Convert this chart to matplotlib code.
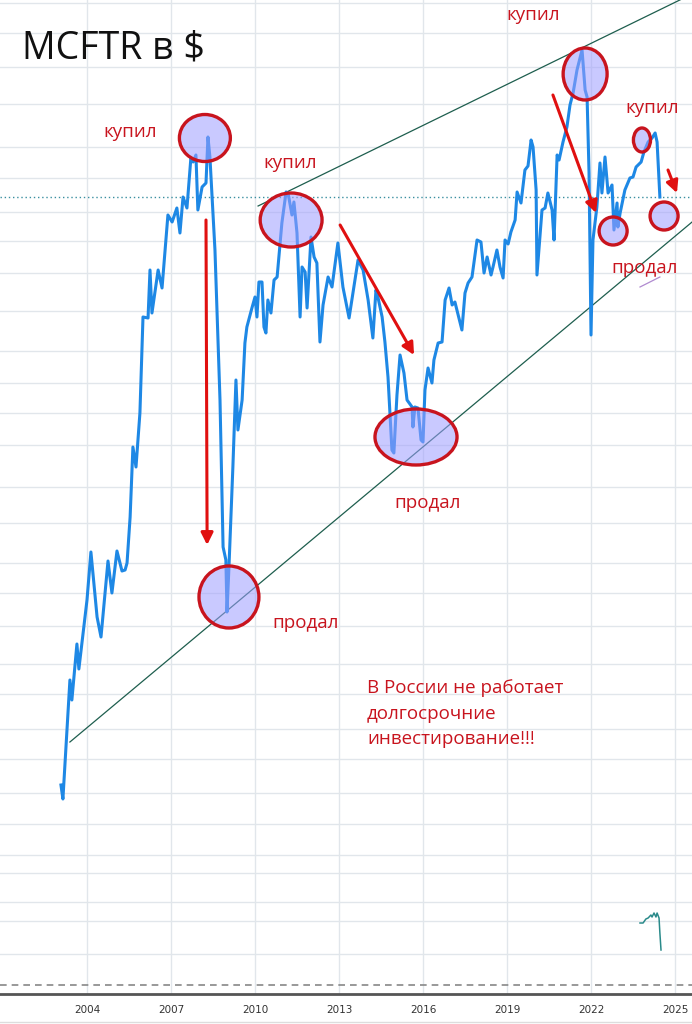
#%%
import numpy as np
import matplotlib.pyplot as plt
from matplotlib.patches import Ellipse

plt.rcParams['font.family'] = ['Open Sans', 'DejaVu Sans']

#%% MCFTR in $ (levels are relative chart units, no price axis shown)
years = [2003.07, 2003.14, 2003.39, 2003.46, 2003.64, 2003.71, 2004.00, 2004.14, 2004.36, 2004.50,
         2004.75, 2004.89, 2005.07, 2005.25, 2005.36, 2005.43, 2005.54, 2005.64, 2005.75, 2005.89,
         2006.00, 2006.18, 2006.25, 2006.32, 2006.54, 2006.68, 2006.89, 2007.04, 2007.21, 2007.32,
         2007.43, 2007.57, 2007.71, 2007.79, 2007.89, 2007.96, 2008.11, 2008.25, 2008.32, 2008.39,
         2008.57, 2008.75, 2008.86, 2008.96, 2009.00, 2009.07, 2009.21, 2009.32, 2009.39, 2009.54,
         2009.64, 2009.71, 2009.89, 2010.00, 2010.07, 2010.14, 2010.25, 2010.32, 2010.39, 2010.46,
         2010.57, 2010.68, 2010.79, 2010.96, 2011.11, 2011.18, 2011.32, 2011.39, 2011.50, 2011.61,
         2011.68, 2011.79, 2011.86, 2012.00, 2012.11, 2012.21, 2012.32, 2012.43, 2012.61, 2012.75,
         2012.96, 2013.14, 2013.36, 2013.68, 2013.86, 2014.04, 2014.21, 2014.32, 2014.39, 2014.54,
         2014.64, 2014.75, 2014.89, 2014.96, 2015.07, 2015.18, 2015.32, 2015.43, 2015.61, 2015.64,
         2015.71, 2015.82, 2015.93, 2016.00, 2016.07, 2016.18, 2016.32, 2016.39, 2016.54, 2016.68,
         2016.79, 2016.93, 2017.04, 2017.14, 2017.39, 2017.50, 2017.61, 2017.75, 2017.93, 2018.07,
         2018.18, 2018.29, 2018.43, 2018.50, 2018.64, 2018.75, 2018.86, 2018.93, 2019.04, 2019.14,
         2019.29, 2019.36, 2019.50, 2019.64, 2019.75, 2019.86, 2019.93, 2020.04, 2020.07, 2020.25,
         2020.36, 2020.46, 2020.61, 2020.68, 2020.79, 2020.86, 2021.00, 2021.14, 2021.25, 2021.36,
         2021.50, 2021.68, 2021.79, 2021.86, 2021.93, 2022.00, 2022.07, 2022.21, 2022.32, 2022.39,
         2022.50, 2022.61, 2022.75, 2022.82, 2022.93, 2022.96, 2023.04, 2023.21, 2023.39, 2023.50,
         2023.61, 2023.79, 2023.89, 2024.04, 2024.18, 2024.29, 2024.36, 2024.46]
levels = [209, 195, 314, 294, 350, 325, 394, 442, 377, 357,
          433, 401, 443, 423, 424, 431, 477, 547, 527, 581,
          677, 676, 724, 681, 724, 706, 779, 772, 786, 761,
          797, 786, 836, 832, 839, 784, 807, 811, 857, 837,
          744, 594, 447, 434, 382, 427, 527, 614, 564, 594,
          651, 667, 686, 697, 677, 712, 712, 667, 661, 694,
          681, 714, 717, 771, 802, 801, 779, 792, 761, 677,
          727, 722, 686, 757, 737, 731, 652, 689, 717, 707,
          751, 707, 676, 734, 724, 694, 656, 704, 697, 677,
          652, 617, 544, 541, 599, 639, 621, 594, 587, 567,
          587, 586, 554, 552, 604, 626, 611, 634, 651, 652,
          694, 706, 689, 692, 664, 701, 711, 717, 754, 752,
          721, 737, 719, 727, 744, 727, 716, 754, 750, 762,
          774, 802, 791, 824, 828, 854, 847, 804, 719, 784,
          786, 801, 784, 754, 839, 834, 852, 867, 889, 901,
          924, 944, 904, 897, 821, 659, 754, 787, 831, 801,
          837, 801, 809, 764, 791, 767, 781, 804, 816, 817,
          827, 832, 842, 852, 856, 861, 852, 797]

# small line in the lower pane
pane_years = [2023.75, 2023.86, 2023.96, 2024.04, 2024.14, 2024.18, 2024.25, 2024.32, 2024.36, 2024.43, 2024.46, 2024.50]
pane_levels = [71, 71, 75, 76, 79, 77, 81, 77, 81, 76, 61, 44]

tick_years = [2004, 2007, 2010, 2013, 2016, 2019, 2022, 2025]
grid_levels = [991, 961, 927, 890, 847, 816, 782, 753, 721, 683, 643, 611, 581, 549, 507,
               471, 431, 401, 368, 330, 300, 265, 235, 201, 170, 139, 121, 92, 73, 40]
last_level = 797

# channel lines
lower_line = ([2003.39, 2025.61], [252, 772])
upper_line = ([2010.11, 2025.61], [788, 1000])

# circles: (year, level, width in years, height)
circles = [(2008.21, 856, 1.82, 47), (2011.29, 774, 2.21, 54), (2009.07, 397, 2.14, 62),
           (2015.75, 557, 2.93, 56), (2021.79, 920, 1.57, 52), (2022.79, 763, 1.0, 28),
           (2023.82, 854, 0.61, 24), (2024.61, 778, 1.0, 28)]

arrows = [((2008.25, 774), (2008.29, 449)), ((2013.04, 769), (2015.68, 639)),
          ((2020.64, 899), (2022.18, 781)), ((2024.75, 824), (2025.07, 801))]

labels = [('купил', 2005.54, 862), ('купил', 2011.25, 831), ('купил', 2019.93, 979),
          ('купил', 2024.18, 886), ('продал', 2011.79, 371), ('продал', 2016.18, 491),
          ('продал', 2023.93, 726)]

note = 'В России не работает\nдолгосрочние\nинвестирование!!!'

#%%
red = '#c8141e'
fig = plt.figure(figsize=(6.92, 10.24), dpi=100)
ax = fig.add_axes([0, 30 / 1024, 1, 994 / 1024])
ax.set_xlim(2000.893, 2025.607)
ax.set_ylim(0, 994)

for g in grid_levels:
    ax.axhline(g, color='#e1e6eb', lw=1, zorder=0)
for t in tick_years:
    ax.axvline(t, color='#e1e6eb', lw=1, zorder=0)

ax.axhline(last_level, color='#3a8fa0', lw=1, ls=(0, (1, 2)), zorder=1)
ax.axhline(9, color='#888888', lw=1.2, ls=(0, (4, 3)), zorder=1)

ax.plot(*lower_line, color='#1e5e4e', lw=0.9, zorder=2)
ax.plot(*upper_line, color='#1e5e4e', lw=0.9, zorder=2)

ax.plot(years, levels, color='#1e88e5', lw=2.2, zorder=3, solid_joinstyle='round')
ax.plot(pane_years, pane_levels, color='#2a8a8a', lw=1.1, zorder=3)
ax.plot([2023.75, 2024.46], [707, 717], color='#b08ad0', lw=0.9, zorder=3)

for cx, cy, w, h in circles:
    ax.add_patch(Ellipse((cx, cy), w, h, facecolor=(0.62, 0.62, 1.0, 0.55),
                         edgecolor=red, lw=2.4, zorder=4))

for (x0, y0), (x1, y1) in arrows:
    ax.annotate('', xy=(x1, y1), xytext=(x0, y0), zorder=5,
                arrowprops=dict(arrowstyle='-|>', color='#e01010', lw=2.2,
                                mutation_scale=18, shrinkA=0, shrinkB=0))

for txt, x, y in labels:
    ax.text(x, y, txt, color=red, fontsize=13.5, ha='center', va='center', zorder=6)

ax.text(2014.0, 315, note, color=red, fontsize=13.5, ha='left', va='top',
        linespacing=1.55, zorder=6)

ax.text(0.032, 0.951, 'MCFTR в $', transform=ax.transAxes, fontsize=27,
        color='#111111', ha='left', va='center', zorder=6)

ax.set_xticks(tick_years)
ax.set_xticklabels([str(t) for t in tick_years], fontsize=7.5, color='#333333',
                   family='DejaVu Sans')
ax.tick_params(axis='x', length=0, pad=8)
ax.set_yticks([])
for s in ['top', 'left', 'right']:
    ax.spines[s].set_visible(False)
ax.spines['bottom'].set_color('#555555')
ax.spines['bottom'].set_linewidth(2)

fig.add_artist(plt.Line2D([0, 1], [2 / 1024, 2 / 1024], color='#dddddd', lw=1))

plt.savefig('out.png', dpi=100)
